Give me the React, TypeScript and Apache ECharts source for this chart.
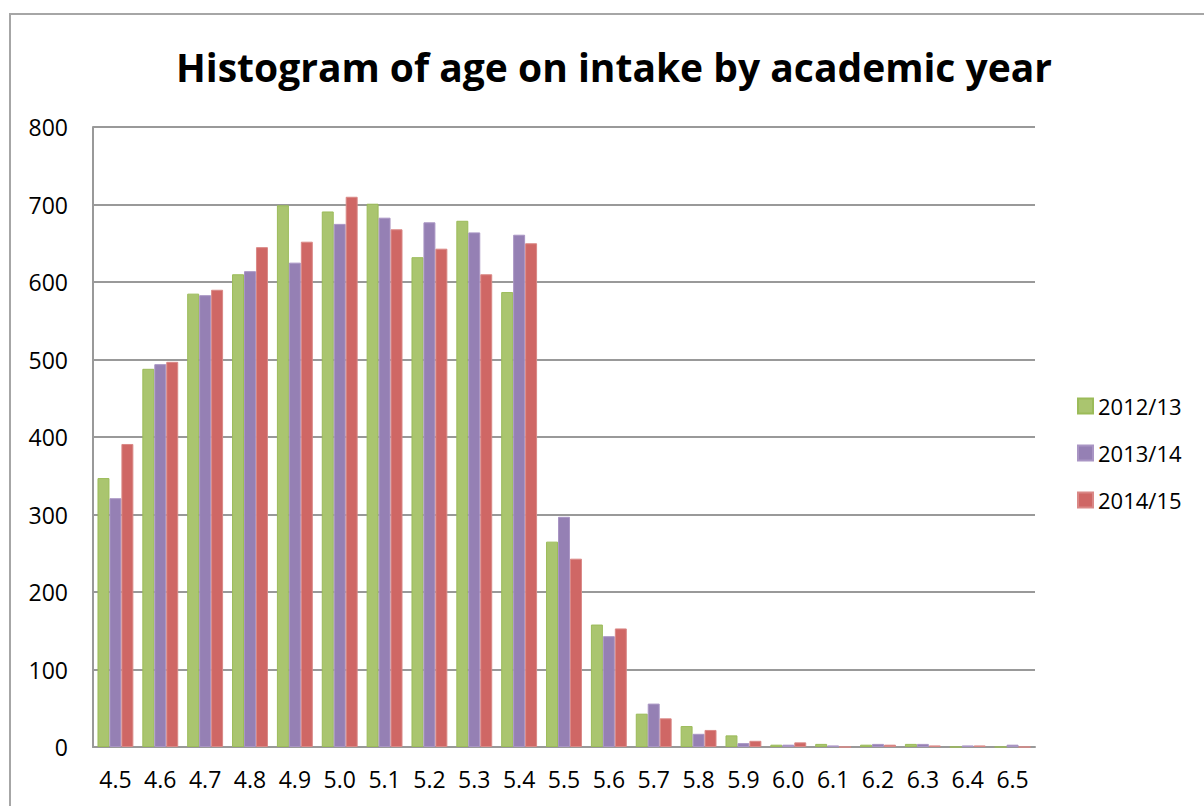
import React, { useEffect, useRef } from "react";
import * as echarts from "echarts";

const categories = ["4.5","4.6","4.7","4.8","4.9","5.0","5.1","5.2","5.3","5.4","5.5","5.6","5.7","5.8","5.9","6.0","6.1","6.2","6.3","6.4","6.5"];
const y2012 = [347, 488, 585, 610, 699, 691, 701, 632, 679, 587, 265, 158, 43, 27, 15, 3, 4, 3, 4, 0, 0];
const y2013 = [321, 494, 583, 614, 625, 675, 683, 677, 664, 661, 297, 143, 56, 17, 5, 3, 2, 4, 4, 2, 3];
const y2014 = [391, 497, 590, 645, 652, 710, 668, 643, 610, 650, 243, 153, 37, 22, 8, 6, 0, 3, 2, 2, 0];
const seriesNames = ["2012/13", "2013/14", "2014/15"];
const titleText = "Histogram of age on intake by academic year";

export default function App() {
  const ref = useRef<HTMLDivElement>(null);
  useEffect(() => {
    document.body.style.margin = "0";
    const chart = echarts.init(ref.current!, undefined, { renderer: "svg" });
    const font = "'Open Sans', sans-serif";
    const mk = (name: string, data: number[], fill: string, border: string) => ({
      name,
      type: "bar",
      data,
      barGap: "0%",
      barCategoryGap: "20%",
      itemStyle: { color: fill, borderColor: border, borderWidth: 1 },
    });
    chart.setOption({
      animation: false,
      backgroundColor: "#ffffff",
      graphic: [
        {
          type: "rect",
          shape: { x: 10, y: 14, width: 1400, height: 1000 },
          style: { fill: "none", stroke: "#a6a6a6", lineWidth: 2 },
          silent: true,
        },
        {
          type: "text",
          x: 614,
          y: 66,
          style: {
            text: titleText,
            font: "bold 39px 'Open Sans', sans-serif",
            fill: "#000",
            textAlign: "center",
            textVerticalAlign: "middle",
          },
        },
      ],
      legend: {
        orient: "vertical",
        left: 1077,
        top: 395,
        padding: 0,
        itemWidth: 15,
        itemHeight: 15,
        itemGap: 25,
        icon: "rect",
        textStyle: { fontFamily: font, fontSize: 22, color: "#000" },
        data: seriesNames,
      },
      grid: { left: 93, top: 127, right: 169, bottom: 59, containLabel: false },
      xAxis: {
        type: "category",
        data: categories,
        axisLine: { show: true, lineStyle: { color: "#999", width: 2 } },
        axisTick: { show: false },
        axisLabel: { fontFamily: font, fontSize: 23, color: "#000", margin: 20, interval: 0 },
      },
      yAxis: {
        type: "value",
        min: 0,
        max: 800,
        interval: 100,
        axisLine: { show: true, lineStyle: { color: "#999", width: 2 } },
        axisTick: { show: false },
        splitLine: { lineStyle: { color: "#999", width: 2 } },
        axisLabel: { fontFamily: font, fontSize: 23, color: "#000", margin: 25 },
      },
      series: [
        mk(seriesNames[0], y2012, "#AAC56F", "#9BBB59"),
        mk(seriesNames[1], y2013, "#9580B4", "#A995C4"),
        mk(seriesNames[2], y2014, "#CF6765", "#DA8886"),
      ],
    });
    return () => chart.dispose();
  }, []);
  return <div ref={ref} style={{ width: 1204, height: 806 }} />;
}
